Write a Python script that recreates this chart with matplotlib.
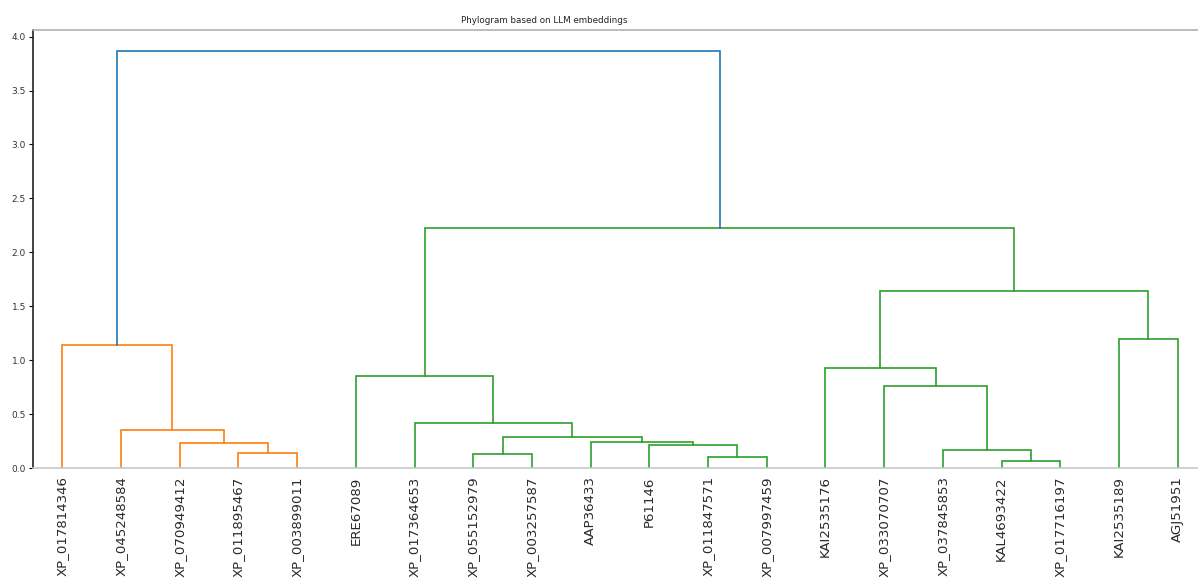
import matplotlib
matplotlib.use("Agg")
import matplotlib.pyplot as plt

# ---- data -------------------------------------------------------------
leaf_labels = [
    "XP_017814346", "XP_045248584", "XP_070949412", "XP_011895467",
    "XP_003899011", "ERE67089", "XP_017364653", "XP_055152979",
    "XP_003257587", "AAP36433", "P61146", "XP_011847571",
    "XP_007997459", "KAI2535176", "XP_033070707", "XP_037845853",
    "KAL4693422", "XP_017716197", "KAI2535189", "AGJ51951",
]
# merges in display-order leaf indices; new cluster ids start at len(leaf_labels)
merge_left = [3, 2, 1, 0, 7, 11, 10, 9, 24, 6, 5, 16, 15, 14, 13, 18, 34, 30, 23]
merge_right = [4, 20, 21, 22, 8, 12, 25, 26, 27, 28, 29, 17, 31, 32, 33, 19, 35, 36, 37]
merge_height = [0.139, 0.232, 0.350, 1.145, 0.133, 0.102, 0.216, 0.238,
                0.284, 0.418, 0.849, 0.068, 0.164, 0.764, 0.928, 1.198,
                1.640, 2.222, 3.868]
merge_group = ["C1", "C1", "C1", "C1", "C2", "C2", "C2", "C2", "C2", "C2",
               "C2", "C2", "C2", "C2", "C2", "C2", "C2", "C2", "C0"]
title = "Phylogram based on LLM embeddings"

group_colors = {"C0": "#1f77b4", "C1": "#ff7f0e", "C2": "#2ca02c"}

# ---- figure -----------------------------------------------------------
W, H = 1198, 581
fig = plt.figure(figsize=(W / 100, H / 100), dpi=100)
ax = fig.add_axes([33 / W, (H - 468) / H, 1174 / W, (468 - 30) / H])

n = len(leaf_labels)
pos = {i: 5 + 10 * i for i in range(n)}
hgt = {i: 0.0 for i in range(n)}
for k, (a, b, h, g) in enumerate(zip(merge_left, merge_right, merge_height, merge_group)):
    xa, xb = pos[a], pos[b]
    ya, yb = hgt[a], hgt[b]
    ax.plot([xa, xa, xb, xb], [ya, h, h, yb], color=group_colors[g], lw=1.2,
            solid_joinstyle="miter")
    cid = n + k
    pos[cid] = (xa + xb) / 2
    hgt[cid] = h

ax.set_xlim(0, 10 * n)
ax.set_ylim(0, max(merge_height) * 1.05)
ax.set_xticks([pos[i] for i in range(n)])
ax.set_xticklabels(leaf_labels, rotation=90, fontsize=9.6, color="#2a2a2a")
ax.tick_params(axis="x", bottom=False, top=False, pad=2.5)
ax.set_yticks([0, 0.5, 1.0, 1.5, 2.0, 2.5, 3.0, 3.5, 4.0])
ax.tick_params(axis="y", labelsize=6.5, length=3, width=0.8, pad=2,
               labelcolor="#333333")

ax.spines["right"].set_visible(False)
ax.spines["top"].set_color("#b0b0b0")
ax.spines["bottom"].set_color("#c8c8c8")
ax.spines["left"].set_color("#222222")
for s in ax.spines.values():
    s.set_linewidth(1.2)

ax.set_title(title, fontsize=6.3, x=(544 - 33) / 1174, pad=5, color="#222222")

fig.savefig("out.png", dpi=100)
